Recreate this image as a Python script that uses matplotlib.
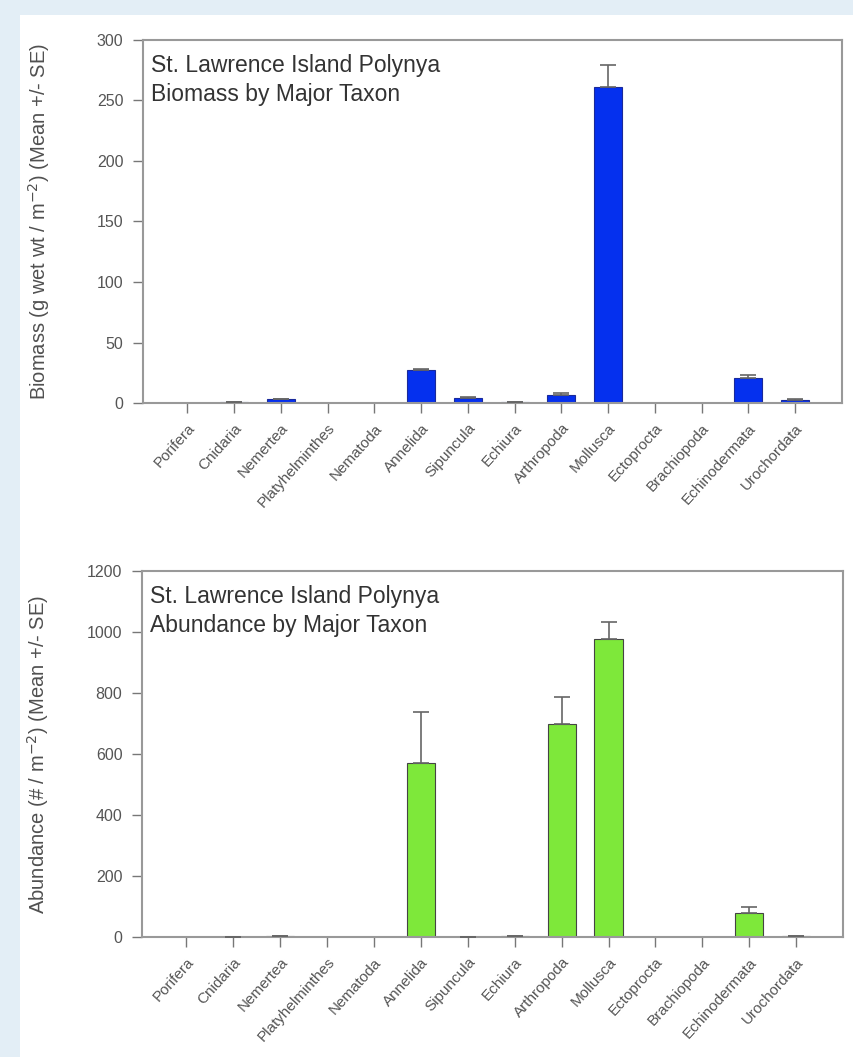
import matplotlib
matplotlib.use("Agg")
import matplotlib.pyplot as plt
from matplotlib.patches import Rectangle

# taxa (same order in both panels)
taxa = ["Porifera", "Cnidaria", "Nemertea", "Platyhelminthes", "Nematoda",
        "Annelida", "Sipuncula", "Echiura", "Arthropoda", "Mollusca",
        "Ectoprocta", "Brachiopoda", "Echinodermata", "Urochordata"]

# biomass, g wet wt / m^2
biomass_mean = [0, 0.5, 3, 0, 0, 27, 4, 0.5, 7, 261, 0, 0, 20.5, 2.5]
biomass_se = [0, 0.2, 0.5, 0, 0, 1.0, 0.6, 0.2, 1.0, 18, 0, 0, 2.5, 0.5]

# abundance, # / m^2
abund_mean = [0, 1, 4, 0, 0, 570, 1, 2, 698, 977, 0, 0, 80, 4]
abund_se = [0, 0.5, 1, 0, 0, 168, 0.5, 0.5, 89, 56, 0, 0, 17, 1]

plt.rcParams["font.family"] = ["Liberation Sans", "DejaVu Sans"]

fig = plt.figure(figsize=(8.54, 10.57), dpi=100, facecolor="white")

# light blue frame of the page
band = "#e3eef6"
fig.patches.append(Rectangle((0, 0), 20 / 854, 1, transform=fig.transFigure,
                             facecolor=band, edgecolor="none", zorder=-10))
fig.patches.append(Rectangle((0, 1 - 15 / 1057), 1, 15 / 1057, transform=fig.transFigure,
                             facecolor=band, edgecolor="none", zorder=-10))

ax1 = fig.add_axes([0.1674, 0.6187, 0.8185, 0.3435])
ax2 = fig.add_axes([0.1662, 0.1135, 0.8209, 0.3463])

x = list(range(len(taxa)))


def draw_panel(ax, means, ses, color, edge, ymax, ystep, ylabel, title):
    ax.bar(x, means, width=0.6, color=color, edgecolor=edge, linewidth=0.8, zorder=2)
    # error bars only where there is something to show
    xe = [i for i in x if means[i] > 0]
    ye = [means[i] for i in xe]
    se = [ses[i] for i in xe]
    ax.errorbar(xe, ye, yerr=[[0] * len(se), se], fmt="none", ecolor="#666666",
                elinewidth=1.2, capsize=5.5, capthick=1.2, zorder=3)
    ax.set_xlim(-0.95, 14.0)
    ax.set_ylim(0, ymax)
    ax.set_yticks(range(0, ymax + 1, ystep))
    ax.set_xticks(x)
    ax.set_xticklabels(taxa, rotation=48, ha="right", rotation_mode="anchor",
                       fontsize=11, color="#555555")
    ax.tick_params(axis="y", labelsize=11.5, labelcolor="#555555", pad=7)
    ax.tick_params(axis="x", pad=6)
    ax.tick_params(direction="out", length=7, width=1, color="#777777")
    for s in ax.spines.values():
        s.set_color("#999999")
        s.set_linewidth(1.5)
    ax.set_ylabel(ylabel, fontsize=14.5, color="#505050")
    ax.yaxis.set_label_coords(-0.13, 0.5)
    ax.text(0.011, 0.962, title, transform=ax.transAxes, va="top", ha="left",
            fontsize=16.5, color="#333333", linespacing=1.32)


draw_panel(ax1, biomass_mean, biomass_se, "#0530ee", "#1a2a9a", 300, 50,
           "Biomass (g wet wt / m$^{-2}$) (Mean +/- SE)",
           "St. Lawrence Island Polynya\nBiomass by Major Taxon")
draw_panel(ax2, abund_mean, abund_se, "#7ee83a", "#444444", 1200, 200,
           "Abundance (# / m$^{-2}$) (Mean +/- SE)",
           "St. Lawrence Island Polynya\nAbundance by Major Taxon")

fig.savefig("out.png", dpi=100, facecolor=fig.get_facecolor())
